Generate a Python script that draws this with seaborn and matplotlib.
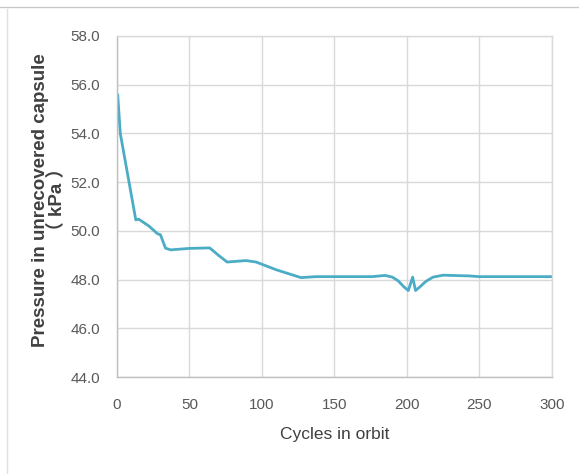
import matplotlib
matplotlib.use("Agg")
import matplotlib.pyplot as plt
import seaborn as sns
import pandas as pd
from matplotlib.lines import Line2D

# Pressure readings
cycles = [0.5, 2.3, 13, 15, 22, 28, 30, 33.5, 37, 50, 64, 70, 76, 89, 96, 110, 127,
          137, 176, 185, 190, 194, 198, 201, 204, 206, 209, 213, 218, 225, 243, 250, 300]
pressure = [55.6, 54.0, 50.45, 50.48, 50.2, 49.88, 49.84, 49.29, 49.22, 49.28, 49.3,
            49.0, 48.72, 48.78, 48.72, 48.4, 48.08, 48.12, 48.12, 48.17, 48.1, 47.95,
            47.7, 47.55, 48.1, 47.55, 47.7, 47.92, 48.1, 48.18, 48.15, 48.12, 48.12]

y_ticks = [44, 46, 48, 50, 52, 54, 56, 58]
x_ticks = [0, 50, 100, 150, 200, 250, 300]

df = pd.DataFrame({"cycles": cycles, "pressure": pressure})

sns.set_style("whitegrid")
plt.rcParams["font.family"] = ["Liberation Sans", "DejaVu Sans"]

fig = plt.figure(figsize=(5.79, 4.74), dpi=100)
ax = fig.add_axes([0.202, 0.2046, 0.751, 0.7195])

sns.lineplot(data=df, x="cycles", y="pressure", color="#4BACC6", linewidth=2, ax=ax)

ax.set_xlim(0, 300)
ax.set_ylim(44, 58)
ax.set_xticks(x_ticks)
ax.set_yticks(y_ticks)
ax.set_yticklabels([f"{v:.1f}" for v in y_ticks])
ax.grid(True, color="#d9d9d9", linewidth=1)
for s in ax.spines.values():
    s.set_color("#d9d9d9")
    s.set_linewidth(1)
ax.spines["left"].set_color("#bfbfbf")
ax.spines["bottom"].set_color("#bfbfbf")
ax.tick_params(axis="both", length=0, labelsize=11, colors="#595959")
ax.tick_params(axis="x", pad=15)
ax.tick_params(axis="y", pad=12)

ax.set_xlabel("Cycles in orbit", fontsize=12.5, color="#404040", labelpad=11)
ax.set_ylabel("Pressure in unrecovered capsule\n（ kPa ）", fontsize=13.5, fontweight="bold",
              color="#404040", family=["Liberation Sans", "Noto Sans CJK JP"],
              linespacing=0.95, ha="center", va="center")
ax.yaxis.set_label_coords(-0.157, 0.52)

# outer frame lines
fig.add_artist(Line2D([0, 1], [1 - 7 / 474, 1 - 7 / 474], transform=fig.transFigure,
                      color="#c8c8c8", linewidth=1))
fig.add_artist(Line2D([7 / 579, 7 / 579], [0, 1 - 9 / 474], transform=fig.transFigure,
                      color="#e0e0e0", linewidth=1))

plt.savefig("out.png", dpi=100)
